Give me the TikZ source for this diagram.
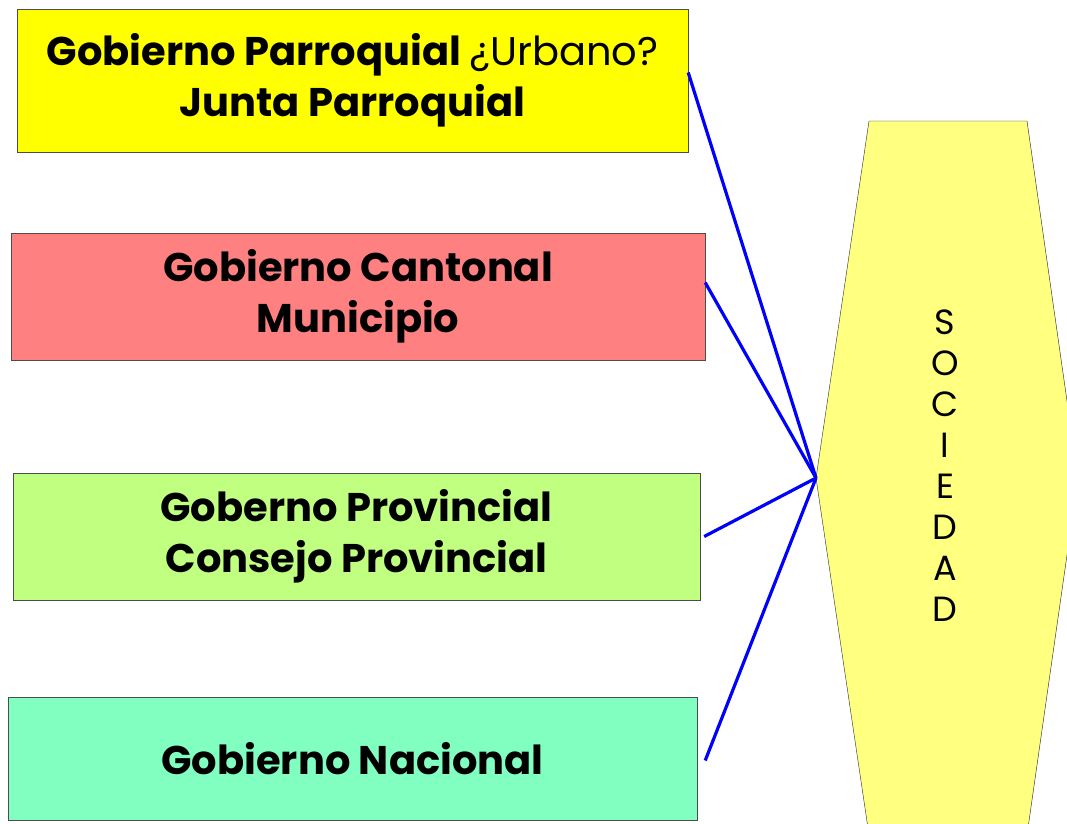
\documentclass[tikz,border=0pt]{standalone}
\usepackage{fontspec}
\setmainfont{Poppins}
\usetikzlibrary{positioning}
\definecolor{nivel parroquia}{RGB}{255,255,0}
\definecolor{nivel canton}{RGB}{255,128,128}
\definecolor{nivel provincia}{RGB}{192,255,128}
\definecolor{nivel nacion}{RGB}{128,255,192}
\definecolor{sociedad fill}{RGB}{255,255,128}

\begin{document}
\begin{tikzpicture}[x=1pt, y=-1pt,
					nivel box/.style={draw=black!70, thin, align=center, font=\fontsize{40}{51}\selectfont\bfseries, inner sep=0pt},
					enlace/.style={draw=blue, line width=3.2pt},
				]
					\useasboundingbox (0,0) rectangle (1067,823);
					\clip (0,0) rectangle (1067,823);

					% hexagono de la sociedad
					\coordinate (soc top l) at (869,121);
					\coordinate (soc top r) at (1027,121);
					\coordinate (soc) at (816,478);
					\coordinate (soc r) at (1078,478);
					\coordinate (soc bot l) at (869,835);
					\coordinate (soc bot r) at (1027,835);
					\draw[fill=sociedad fill, draw=black!85, thin] (soc top l) -- (soc top r) -- (soc r) -- (soc bot r) -- (soc bot l) -- (soc) -- cycle;
					\node[font=\fontsize{35}{41}\selectfont, align=center] (soc label) at (945,466) {S\\O\\C\\I\\E\\D\\A\\D};

					\node[nivel box, fill=nivel parroquia, minimum width=671pt, minimum height=143pt] (parroq) at (352.5,80.5) {Gobierno Parroquial {\mdseries ¿Urbano?}\\Junta Parroquial};
					\node[nivel box, fill=nivel canton, minimum width=694pt, minimum height=127pt] (canton) at (358,296.5) {Gobierno Cantonal\\Municipio};
					\node[nivel box, fill=nivel provincia, minimum width=687pt, minimum height=127pt] (prov) at (356.5,536.5) {Goberno Provincial\\Consejo Provincial};
					\node[nivel box, fill=nivel nacion, minimum width=689pt, minimum height=123pt] (nacion) at (352.5,758.5) {Gobierno Nacional};

					\draw[enlace] (parroq.east) ++(0,-8) -- (soc);
					\draw[enlace] (canton.east) ++(0,-14) -- (soc);
					\draw[enlace] (prov.east) ++(4,0) -- (soc);
					\draw[enlace] (nacion.east) ++(8,2) -- (soc);
				\end{tikzpicture}
\end{document}
